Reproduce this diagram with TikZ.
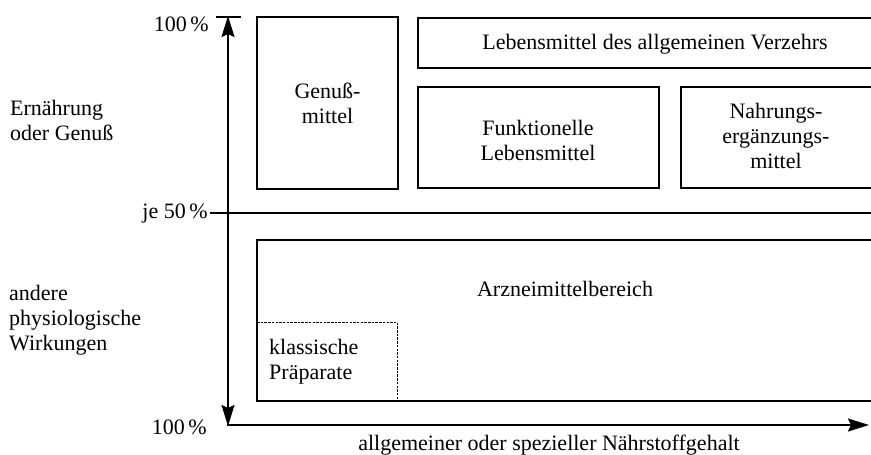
\documentclass[tikz,border=0pt]{standalone}
\usepackage{fontspec}
\setmainfont{Liberation Serif}
\usetikzlibrary{arrows.meta}
\begin{document}
\begin{tikzpicture}[x=1pt,y=-1pt,
  box/.style={draw,line width=1.3pt},
  dotbox/.style={draw,line width=0.9pt,dash pattern=on 2.5pt off 1.2pt},
  lbl/.style={font=\fontsize{22}{25}\selectfont,align=center,inner sep=0pt},
  lbll/.style={font=\fontsize{22}{25}\selectfont,align=left,inner sep=0pt},
  axis/.style={line width=1.7pt},
  tip/.style={-{Stealth[length=21pt,width=13pt,inset=3pt]}}]
\useasboundingbox (0,0) rectangle (871,455);
% boxes
\draw[box] (257,17) rectangle (398,189);
\node[lbl] (genuss) at (327.5,103) {Genuß-\\mittel};
\draw[box] (875,18) -- (418,18) -- (418,68) -- (875,68);
\node[lbl] (lav) at (655,44) {Lebensmittel des allgemeinen Verzehrs};
\draw[box] (418,87) rectangle (659,188);
\node[lbl] (funk) at (538,140) {Funktionelle\\Lebensmittel};
\draw[box] (875,87) -- (681,87) -- (681,188) -- (875,188);
\node[lbl] (nem) at (776,136) {Nahrungs-\\ergänzungs-\\mittel};
\draw[box] (875,240) -- (257,240) -- (257,401) -- (875,401);
\node[lbl] (arz) at (565,289) {Arzneimittelbereich};
\draw[dotbox] (257,322) -- (397,322) -- (397,401);
\node[lbll,anchor=west] (klass) at (269,362) {klassische\\Präparate};
% axes
\coordinate (top) at (228,16);
\coordinate (bot) at (228,426);
\coordinate (o) at (227,425);
\coordinate (xend) at (869,425);
\draw[axis,tip] (228,213) -- (top);
\draw[axis,tip] (228,213) -- (bot);
\draw[axis] (216,17) -- (241,17);
\draw[axis] (210,213) -- (875,213);
\draw[axis,tip] (o) -- (xend);
% axis labels
\node[lbl,anchor=east] (p100a) at (209,24) {100\,\%};
\node[lbl,anchor=east] (p50) at (208,214) {je 50\,\%};
\node[lbl,anchor=east] (p100b) at (207,427) {100\,\%};
\node[lbll,anchor=west] (ern) at (10,120) {Ernährung\\oder Genuß};
\node[lbll,anchor=west] (and) at (9,320) {andere\\physiologische\\Wirkungen};
\node[lbl] (xl) at (549,445) {allgemeiner oder spezieller Nährstoffgehalt};
\end{tikzpicture}
\end{document}
